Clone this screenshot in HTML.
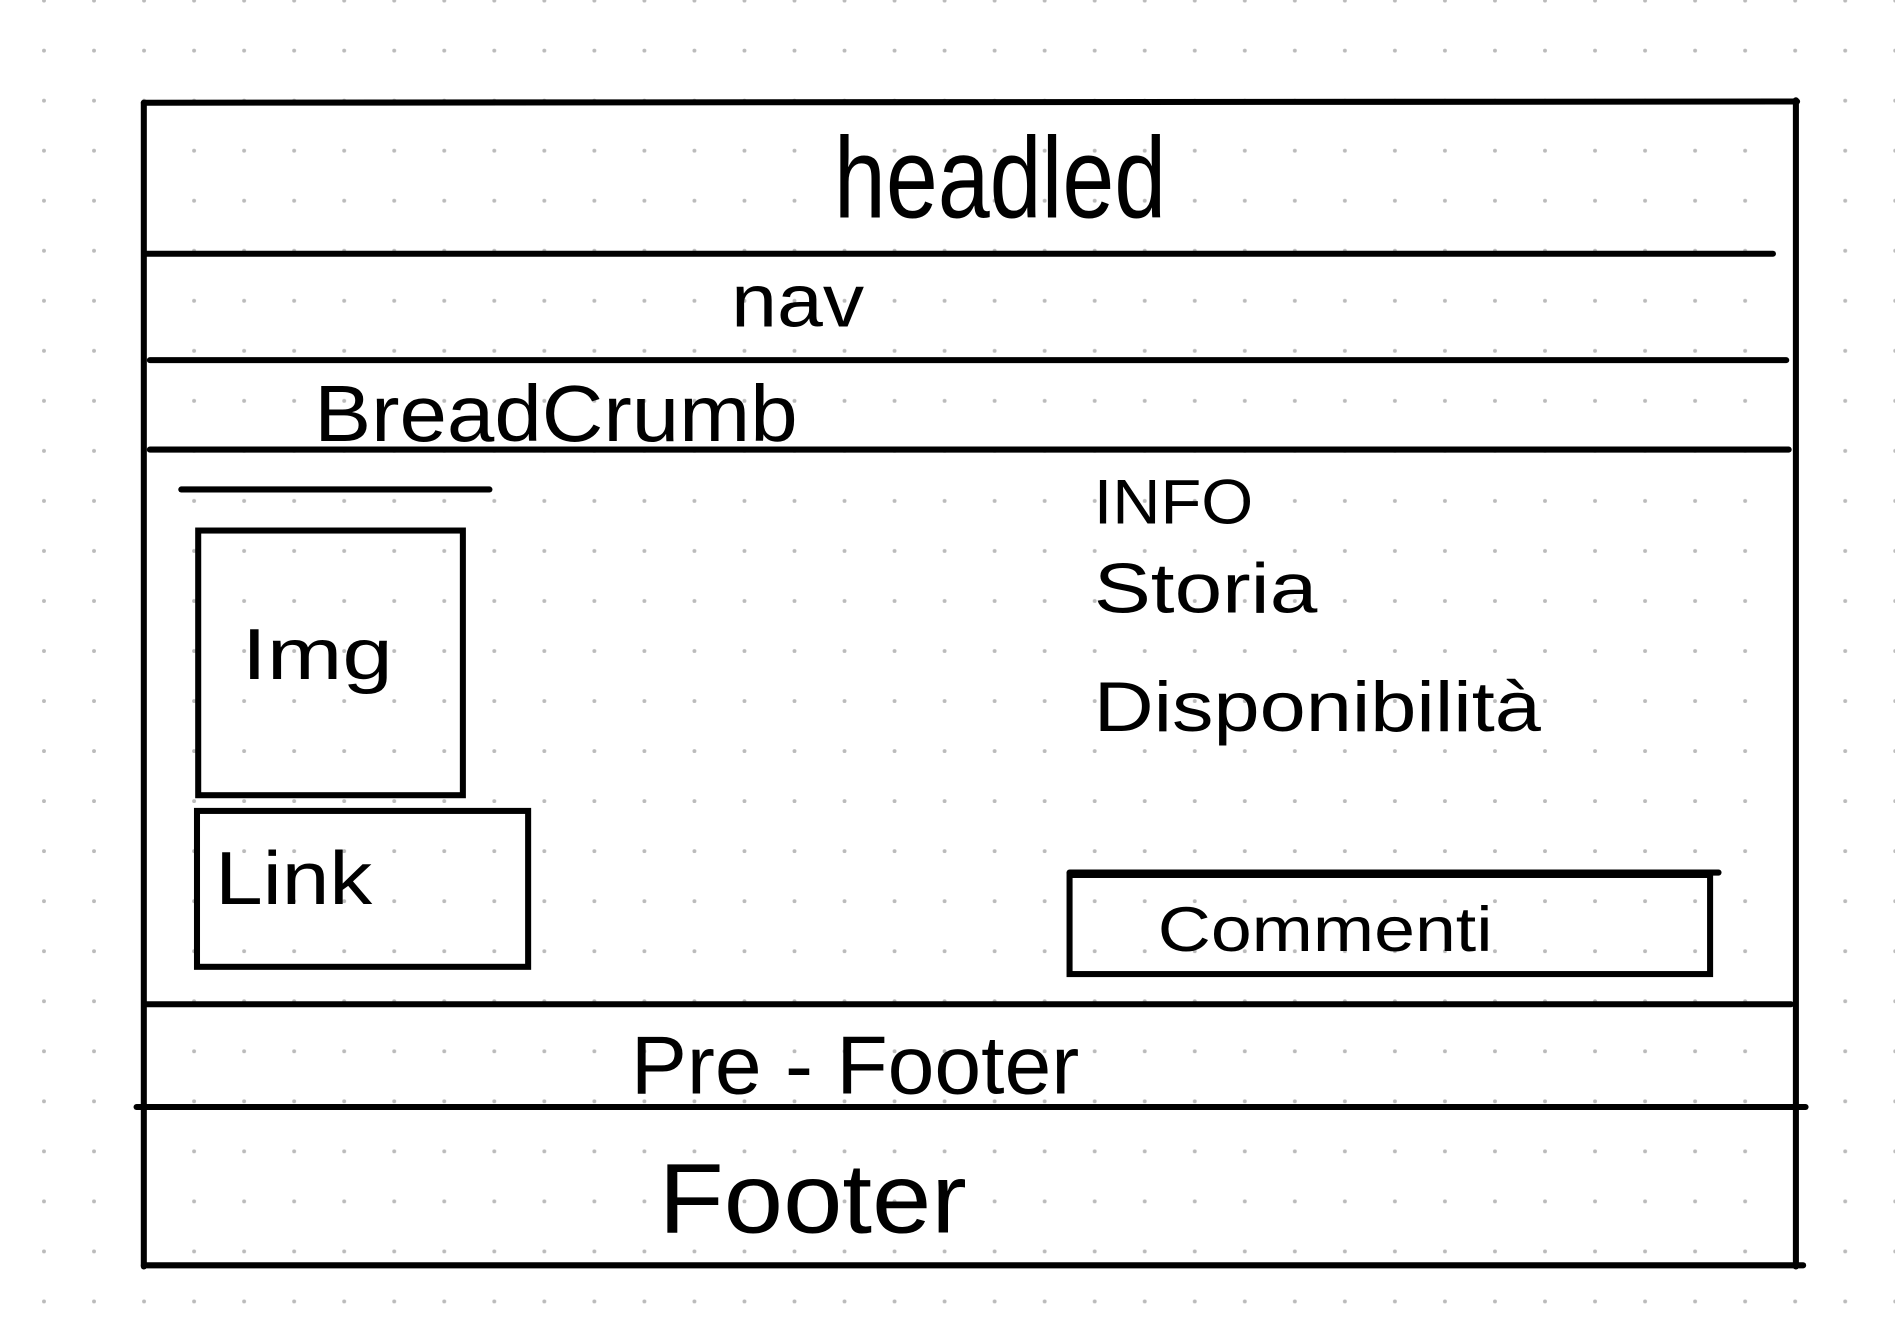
<!DOCTYPE html>
<html><head><style>html,body{margin:0;padding:0;background:#fff}svg{display:block}</style></head>
<body>
<svg width="1895" height="1333" viewBox="0 0 1568 1103" preserveAspectRatio="none" xmlns="http://www.w3.org/2000/svg">
<defs><pattern id="d" x="36.4" y="0" width="41.4" height="41.4" patternUnits="userSpaceOnUse"><circle cx="0" cy="0.5" r="1.6" fill="#bbb"/><circle cx="41.4" cy="0.5" r="1.6" fill="#bbb"/><circle cx="0" cy="41.9" r="1.6" fill="#bbb"/><circle cx="41.4" cy="41.9" r="1.6" fill="#bbb"/></pattern></defs>
<rect width="1568" height="1103" fill="#fff"/>
<rect width="1568" height="1103" fill="url(#d)"/>
<g stroke="#000" stroke-width="5" stroke-linecap="round" fill="none">
<line x1="119" y1="85" x2="119" y2="1048"/>
<line x1="1486" y1="83" x2="1486" y2="1048"/>
<line x1="119" y1="85" x2="1487" y2="84"/>
<line x1="119" y1="1047" x2="1492" y2="1047"/>
<line x1="121" y1="210" x2="1467" y2="210"/>
<line x1="124" y1="298" x2="1478" y2="298"/>
<line x1="124" y1="372" x2="1480" y2="372"/>
<line x1="150" y1="405" x2="405" y2="405"/>
<line x1="121" y1="831" x2="1482" y2="831"/>
<line x1="113" y1="916" x2="1494" y2="916"/>
<rect x="164" y="439" width="219" height="219"/>
<rect x="163" y="671" width="274" height="129"/>
<rect x="885" y="724" width="530" height="82"/>
<line x1="885" y1="722" x2="1422" y2="722"/>
</g>
<g font-family="Liberation Sans, sans-serif" fill="#000">
<text x="690" y="180" font-size="95" textLength="275" lengthAdjust="spacingAndGlyphs">headled</text>
<text x="605" y="270" font-size="62" textLength="110" lengthAdjust="spacingAndGlyphs">nav</text>
<text x="260" y="365" font-size="66" textLength="400" lengthAdjust="spacingAndGlyphs">BreadCrumb</text>
<text x="905" y="433" font-size="52" textLength="132" lengthAdjust="spacingAndGlyphs">INFO</text>
<text x="905" y="507" font-size="58" textLength="185" lengthAdjust="spacingAndGlyphs">Storia</text>
<text x="905" y="605" font-size="58" textLength="370" lengthAdjust="spacingAndGlyphs">Disponibilità</text>
<text x="200" y="562" font-size="60" textLength="125" lengthAdjust="spacingAndGlyphs">Img</text>
<text x="178" y="748" font-size="62" textLength="130" lengthAdjust="spacingAndGlyphs">Link</text>
<text x="958" y="787" font-size="52" textLength="277" lengthAdjust="spacingAndGlyphs">Commenti</text>
<text x="522" y="905" font-size="68" textLength="371" lengthAdjust="spacingAndGlyphs">Pre - Footer</text>
<text x="545" y="1020" font-size="82" textLength="255" lengthAdjust="spacingAndGlyphs">Footer</text>
</g>
</svg>
</body></html>
